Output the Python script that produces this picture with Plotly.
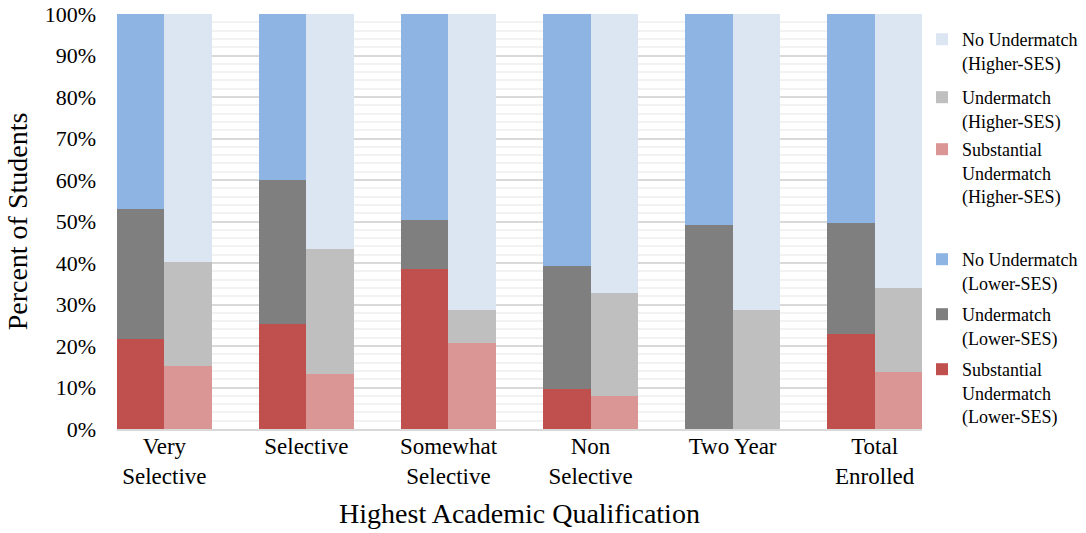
import plotly.graph_objects as go

# Institution selectivity groups (x-axis categories)
categories = ["Very<br>Selective", "Selective", "Somewhat<br>Selective",
              "Non<br>Selective", "Two Year", "Total<br>Enrolled"]

# Percent of students per group, lower-SES
lower_substantial = [21.6, 25.2, 38.5, 9.6, 0.0, 22.8]
lower_undermatch = [31.3, 34.8, 11.9, 29.6, 49.1, 26.8]
lower_no_undermatch = [47.1, 40.0, 49.6, 60.8, 50.9, 50.4]

# Percent of students per group, higher-SES
higher_substantial = [15.3, 13.2, 20.7, 8.0, 0.0, 13.7]
higher_undermatch = [25.0, 30.1, 8.0, 24.8, 28.7, 20.3]
higher_no_undermatch = [59.7, 56.7, 71.3, 67.2, 71.3, 66.0]

FONT = "Liberation Serif, Times New Roman, serif"

# Each group occupies three slots: lower-SES bar, higher-SES bar, spacer
n = len(categories)
x_lower = [3 * i + 0.5 for i in range(n)]
x_higher = [3 * i + 1.5 for i in range(n)]
x_ticks = [3 * i + 1.0 for i in range(n)]

series = [
    # name, x, values, colour, legend id
    ("Substantial<br>Undermatch<br>(Lower-SES)", x_lower, lower_substantial, "#C0504D", "legend6"),
    ("Undermatch<br>(Lower-SES)", x_lower, lower_undermatch, "#7F7F7F", "legend5"),
    ("No Undermatch<br>(Lower-SES)", x_lower, lower_no_undermatch, "#8EB4E3", "legend4"),
    ("Substantial<br>Undermatch<br>(Higher-SES)", x_higher, higher_substantial, "#D99694", "legend3"),
    ("Undermatch<br>(Higher-SES)", x_higher, higher_undermatch, "#BFBFBF", "legend2"),
    ("No Undermatch<br>(Higher-SES)", x_higher, higher_no_undermatch, "#DCE6F2", "legend"),
]

fig = go.Figure()
for name, xs, vals, color, leg in series:
    fig.add_trace(go.Bar(
        x=xs, y=[v / 100 for v in vals], width=1.0, name=name,
        marker=dict(color=color, line=dict(width=0)),
        legend=leg, showlegend=True,
    ))

# Vertical position (px from top of figure) of each legend entry's first line
legend_tops = {"legend": 21, "legend2": 79, "legend3": 131,
               "legend4": 241, "legend5": 296, "legend6": 351}
plot_top, plot_bottom = 14, 429
legend_layout = {}
for leg, top_px in legend_tops.items():
    legend_layout[leg] = dict(
        x=1.0, xanchor="left", xref="paper",
        y=(plot_bottom - top_px) / (plot_bottom - plot_top), yanchor="top", yref="paper",
        font=dict(family=FONT, size=18, color="#000000"),
        valign="top", bgcolor="rgba(0,0,0,0)", borderwidth=0,
    )

fig.update_layout(
    width=1086, height=533,
    margin=dict(l=117, r=164, t=14, b=104, autoexpand=False),
    paper_bgcolor="white", plot_bgcolor="white",
    barmode="stack", bargap=0,
    showlegend=True,
    font=dict(family=FONT, color="#000000"),
    **legend_layout,
)

fig.update_xaxes(
    range=[0, 3 * n - 1],
    tickvals=x_ticks, ticktext=categories,
    tickfont=dict(family=FONT, size=23, color="#000000"),
    ticks="", showgrid=False, zeroline=False,
    showline=True, linecolor="#D9D9D9", linewidth=2,
    ticklabelstandoff=-5, automargin=False,
    title=dict(text="Highest Academic Qualification",
               font=dict(family=FONT, size=28, color="#000000"), standoff=16),
)

fig.update_yaxes(
    range=[0, 1], dtick=0.1, tickformat=".0%",
    tickfont=dict(family=FONT, size=22, color="#000000"),
    ticks="", zeroline=False,
    showgrid=True, gridcolor="#D9D9D9", gridwidth=2,
    minor=dict(dtick=0.02, showgrid=True, gridcolor="#F2F2F2", gridwidth=2),
    ticklabelstandoff=20, automargin=False,
    title=dict(text="Percent of Students",
               font=dict(family=FONT, size=28, color="#000000"), standoff=8),
)

fig.write_html("out.html")
